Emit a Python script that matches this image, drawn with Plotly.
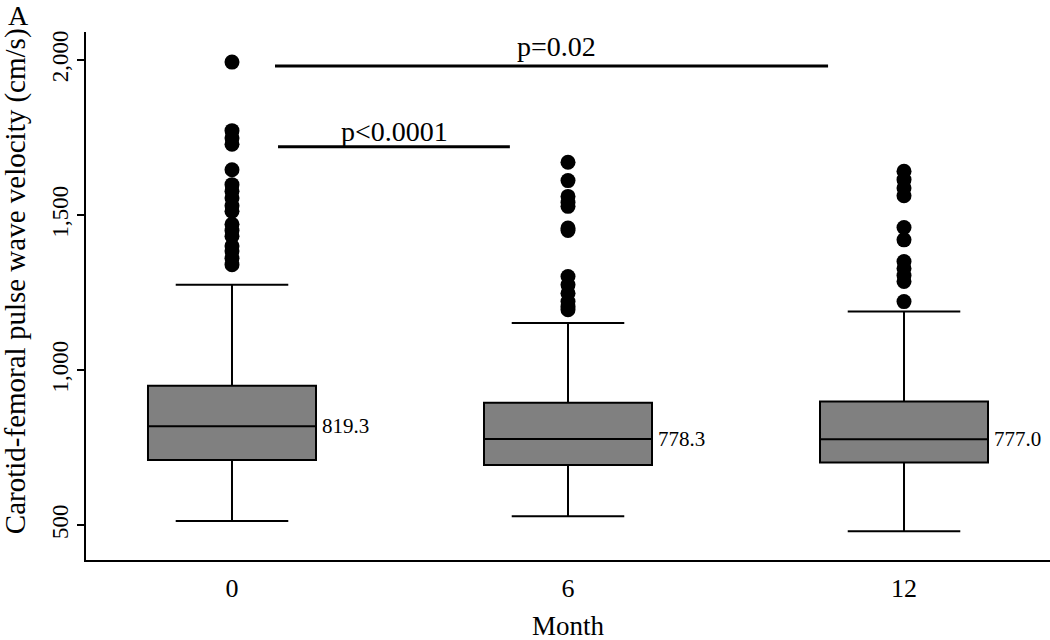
import plotly.graph_objects as go

months = ["0", "6", "12"]
q1 = [710, 694, 702]
median = [819.3, 778.3, 777.0]
q3 = [950, 895, 899]
lower_whisker = [514, 529, 481]
upper_whisker = [1275, 1152, 1189]
median_labels = ["819.3", "778.3", "777.0"]

outliers = {
    "0": [1993, 1772, 1748, 1728, 1646, 1598, 1577, 1555, 1530, 1512, 1470, 1450,
          1432, 1400, 1384, 1361, 1340],
    "6": [1670, 1611, 1560, 1540, 1528, 1458, 1450, 1302, 1275, 1248, 1221, 1205, 1195],
    "12": [1641, 1614, 1587, 1562, 1460, 1420, 1350, 1328, 1305, 1286, 1221],
}

# significance bars: (x start, x end, y, label, label x, label y)
sig_bars = [
    (0.128, 1.774, 1980, "p=0.02", 0.967, 2042),
    (0.137, 0.827, 1720, "p<0.0001", 0.485, 1768),
]

FONT = "Liberation Serif, Times New Roman, serif"

fig = go.Figure()
fig.add_trace(go.Box(
    x=months, q1=q1, median=median, q3=q3,
    lowerfence=lower_whisker, upperfence=upper_whisker,
    boxpoints=False, width=0.5, whiskerwidth=0.67,
    fillcolor="#808080", line=dict(color="black", width=2),
    showlegend=False, hoverinfo="skip",
))

ox, oy = [], []
for m in months:
    for v in outliers[m]:
        ox.append(m)
        oy.append(v)
fig.add_trace(go.Scatter(
    x=ox, y=oy, mode="markers",
    marker=dict(color="black", size=15, line=dict(width=0)),
    showlegend=False, hoverinfo="skip",
))

for i, (m, lab) in enumerate(zip(median, median_labels)):
    fig.add_annotation(x=i + 0.25, y=m, text=lab, showarrow=False,
                       xanchor="left", yanchor="middle", xshift=4,
                       font=dict(family=FONT, size=21, color="black"))

for x0, x1, yv, lab, lx, ly in sig_bars:
    fig.add_shape(type="line", x0=x0, x1=x1, y0=yv, y1=yv, xref="x", yref="y",
                  line=dict(color="black", width=3))
    fig.add_annotation(x=lx, y=ly, text=lab, showarrow=False,
                       xanchor="center", yanchor="middle",
                       font=dict(family=FONT, size=28, color="black"))

fig.add_annotation(xref="paper", yref="paper", x=-0.0737, y=0.528,
                   text="Carotid-femoral pulse wave velocity (cm/s)", textangle=-90,
                   showarrow=False, xanchor="center", yanchor="middle",
                   font=dict(family=FONT, size=29, color="black"))
fig.add_annotation(xref="paper", yref="paper", x=0.5, y=-0.125,
                   text="Month", showarrow=False, xanchor="center", yanchor="middle",
                   font=dict(family=FONT, size=27, color="black"))
fig.add_annotation(xref="paper", yref="paper", x=-0.0705, y=1.032,
                   text="A", showarrow=False, xanchor="center", yanchor="middle",
                   font=dict(family=FONT, size=28, color="black"))

fig.update_layout(
    width=1050, height=640,
    margin=dict(l=86, r=0, t=32, b=80, autoexpand=False),
    plot_bgcolor="white", paper_bgcolor="white",
    font=dict(family=FONT, color="black"),
    xaxis=dict(type="category", categoryorder="array", categoryarray=months,
               range=[-0.4345, 2.4345], showgrid=False, zeroline=False,
               automargin=False,
               showline=True, linecolor="black", linewidth=2,
               ticks="", tickfont=dict(size=26, family=FONT),
               ticklabelstandoff=4),
    yaxis=dict(range=[388, 2090], showgrid=False, zeroline=False,
               automargin=False,
               showline=True, linecolor="black", linewidth=2,
               ticks="outside", ticklen=7, tickwidth=2, tickcolor="black",
               tickvals=[500, 1000, 1500, 2000],
               ticktext=["500", "1,000", "1,500", "2,000"],
               tickangle=-90, tickfont=dict(size=23, family=FONT)),
)

# remove the page's default body margin so the figure fills the window exactly
fig.write_html(
    "out.html",
    config={"displayModeBar": False},
    post_script="document.body.style.margin='0';document.body.style.overflow='hidden';",
)
